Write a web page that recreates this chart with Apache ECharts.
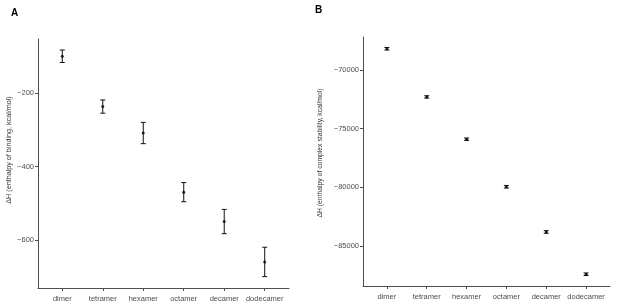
<!DOCTYPE html>
<html>
<head>
<meta charset="utf-8">
<script src="https://cdn.jsdelivr.net/npm/echarts@6/dist/echarts.min.js"></script>
<style>
  html, body { margin: 0; padding: 0; background: #fff; }
  #chart { width: 617px; height: 308px; }
</style>
</head>
<body>
<div id="chart"></div>
<script>
// categories and values
const categories = ['dimer', 'tetramer', 'hexamer', 'octamer', 'decamer', 'dodecamer'];
const bindingMean = [-100, -237, -309, -470, -550, -660];
const bindingErr = [17, 18, 29, 26, 33, 40];
const stabilityMean = [-68200, -72300, -75900, -79950, -83800, -87400];
const stabilityErr = [110, 100, 100, 110, 110, 110];
const bindingTicks = [-600, -400, -200];
const stabilityTicks = [-85000, -80000, -75000, -70000];
const bindingName = '\u0394H (enthalpy of binding, kcal/mol)';
const stabilityName = '\u0394H (enthalpy of complex stability, kcal/mol)';

const xPos = categories.map((c, i) => i + 1);
const font = 'Liberation Sans, Arial, sans-serif';
const axisColor = '#4d4d4d';

function minus(v) {
  return String(v).replace('-', '\u2212');
}

function xAxis(gridIndex) {
  return {
    type: 'value', gridIndex: gridIndex, min: 0.4, max: 6.6,
    splitLine: { show: false },
    axisLine: { show: true, lineStyle: { color: axisColor, width: 1 } },
    axisTick: { show: true, length: 3, customValues: xPos, lineStyle: { color: axisColor } },
    axisLabel: {
      customValues: xPos, margin: 7, fontSize: 7.5, color: '#4d4d4d', fontFamily: font,
      formatter: v => categories[Math.round(v) - 1] || ''
    }
  };
}

function yAxis(gridIndex, min, max, ticks) {
  return {
    type: 'value', gridIndex: gridIndex, min: min, max: max,
    splitLine: { show: false },
    axisLine: { show: true, lineStyle: { color: axisColor, width: 1 } },
    axisTick: { show: true, length: 3, customValues: ticks, lineStyle: { color: axisColor } },
    axisLabel: {
      customValues: ticks, margin: 4, fontSize: 7.5, color: '#4d4d4d', fontFamily: font,
      formatter: v => minus(v)
    }
  };
}

// vertical axis title, placed by its centre
function axisTitle(text, x, y, size) {
  return {
    type: 'text', x: x, y: y, rotation: Math.PI / 2, silent: true,
    style: {
      text: text, fontSize: size, fill: '#333', fontFamily: font,
      align: 'center', verticalAlign: 'middle'
    }
  };
}

function errorSeries(index, mean, err) {
  return {
    type: 'custom', xAxisIndex: index, yAxisIndex: index,
    data: mean.map((m, i) => [xPos[i], m - err[i], m + err[i]]),
    renderItem: function (params, api) {
      const lo = api.coord([api.value(0), api.value(1)]);
      const hi = api.coord([api.value(0), api.value(2)]);
      const w = 2.5;
      const style = { stroke: '#111', lineWidth: 1 };
      return {
        type: 'group',
        children: [
          { type: 'line', shape: { x1: lo[0], y1: lo[1], x2: hi[0], y2: hi[1] }, style: style },
          { type: 'line', shape: { x1: lo[0] - w, y1: lo[1], x2: lo[0] + w, y2: lo[1] }, style: style },
          { type: 'line', shape: { x1: hi[0] - w, y1: hi[1], x2: hi[0] + w, y2: hi[1] }, style: style }
        ]
      };
    },
    silent: true
  };
}

function pointSeries(index, mean) {
  return {
    type: 'scatter', xAxisIndex: index, yAxisIndex: index,
    symbol: 'circle', symbolSize: 3,
    itemStyle: { color: '#000' },
    data: mean.map((m, i) => [xPos[i], m]),
    silent: true
  };
}

const chart = echarts.init(document.getElementById('chart'), null, { renderer: 'canvas' });
chart.setOption({
  animation: false,
  backgroundColor: '#fff',
  title: [
    { text: 'A', left: 6, top: 3, textStyle: { fontSize: 10, fontWeight: 'bold', color: '#000', fontFamily: font } },
    { text: 'B', left: 310, top: 0, textStyle: { fontSize: 10, fontWeight: 'bold', color: '#000', fontFamily: font } }
  ],
  graphic: [
    axisTitle(bindingName, 9, 150, 7.2),
    axisTitle(stabilityName, 320, 153, 6.8)
  ],
  grid: [
    { left: 38, top: 39, width: 251, height: 249 },
    { left: 363, top: 37, width: 247, height: 249 }
  ],
  xAxis: [xAxis(0), xAxis(1)],
  yAxis: [
    yAxis(0, -731, -53, bindingTicks),
    yAxis(1, -88400, -67200, stabilityTicks)
  ],
  series: [
    errorSeries(0, bindingMean, bindingErr),
    pointSeries(0, bindingMean),
    errorSeries(1, stabilityMean, stabilityErr),
    pointSeries(1, stabilityMean)
  ]
});
</script>
</body>
</html>
